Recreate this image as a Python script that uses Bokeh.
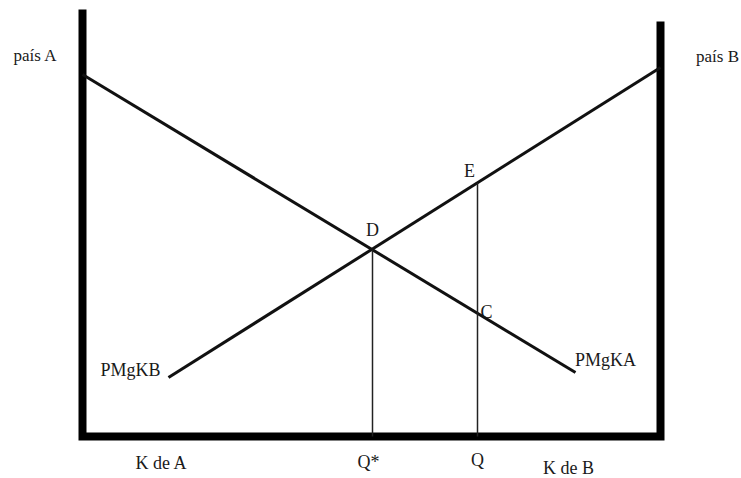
import numpy as np
from bokeh.plotting import figure
from bokeh.models import Range1d, ColumnDataSource
from bokeh.core.properties import value
from bokeh.embed import file_html
from bokeh.resources import INLINE

# --- diagram data (units: capital along x, marginal product along y) ---
box_width = 578          # total capital K (left axis = country A, right axis = country B)
left_axis_top = 427
right_axis_top = 415

# PMgKA: marginal product of capital in A (measured from left axis)
pmgka_x = [0, 493]
pmgka_y = [362, 64]
# PMgKB: marginal product of capital in B (measured from right axis)
pmgkb_x = [86, 578]
pmgkb_y = [59, 369]

q_star = 290     # equilibrium allocation Q*
q_alt = 395      # alternative allocation Q

point_labels = ["D", "E", "C"]
axis_labels = ["K de A", "Q*", "Q", "K de B"]
curve_labels = ["PMgKB", "PMgKA"]
country_labels = ["país A", "país B"]

FONT = value("Liberation Serif")
FS = "18px"
TC = "#1a1a1a"

p = figure(width=741, height=478, output_backend="svg", toolbar_location=None,
           x_range=Range1d(-82, 659), y_range=Range1d(-42, 436),
           min_border=0, outline_line_color=None)
p.axis.visible = False
p.grid.visible = False
p.background_fill_color = "white"
p.border_fill_color = "white"

# box (thick U shape)
p.line([0, 0, box_width, box_width], [left_axis_top, 0, 0, right_axis_top],
       line_width=8, line_color="black", line_join="miter")

# curves
p.line(pmgka_x, pmgka_y, line_width=3, line_color="#111111")
p.line(pmgkb_x, pmgkb_y, line_width=3, line_color="#111111")

def on_a(x):
    return float(np.interp(x, pmgka_x, pmgka_y))

def on_b(x):
    return float(np.interp(x, pmgkb_x, pmgkb_y))

# vertical lines
p.segment(x0=[q_star, q_alt], y0=[0, 0], x1=[q_star, q_alt],
          y1=[on_a(q_star), on_b(q_alt)], line_width=1.5, line_color="#222222")

common = dict(text_font=FONT, text_font_size=FS, text_align="center",
              text_baseline="middle", text_color=TC)

# point labels
pt_src = ColumnDataSource(dict(
    x=[q_star, q_alt - 8, q_alt + 9],
    y=[on_a(q_star) + 20, on_b(q_alt) + 12, on_a(q_alt) + 1],
    t=point_labels))
p.text("x", "y", "t", source=pt_src, **common)

# axis labels
ax_src = ColumnDataSource(dict(
    x=[79, q_star - 4, q_alt, 486],
    y=[-26, -25, -23, -31],
    t=axis_labels))
p.text("x", "y", "t", source=ax_src, **common)

# curve labels
cv_src = ColumnDataSource(dict(x=[48, 523], y=[67, 77], t=curve_labels))
p.text("x", "y", "t", source=cv_src, **common)

# country labels
cn_src = ColumnDataSource(dict(x=[-47, 635], y=[381, 380], t=country_labels))
p.text("x", "y", "t", source=cn_src, text_font=FONT, text_font_size="17px",
       text_align="center", text_baseline="middle", text_color=TC)

open("out.html", "w").write(file_html(p, INLINE))
